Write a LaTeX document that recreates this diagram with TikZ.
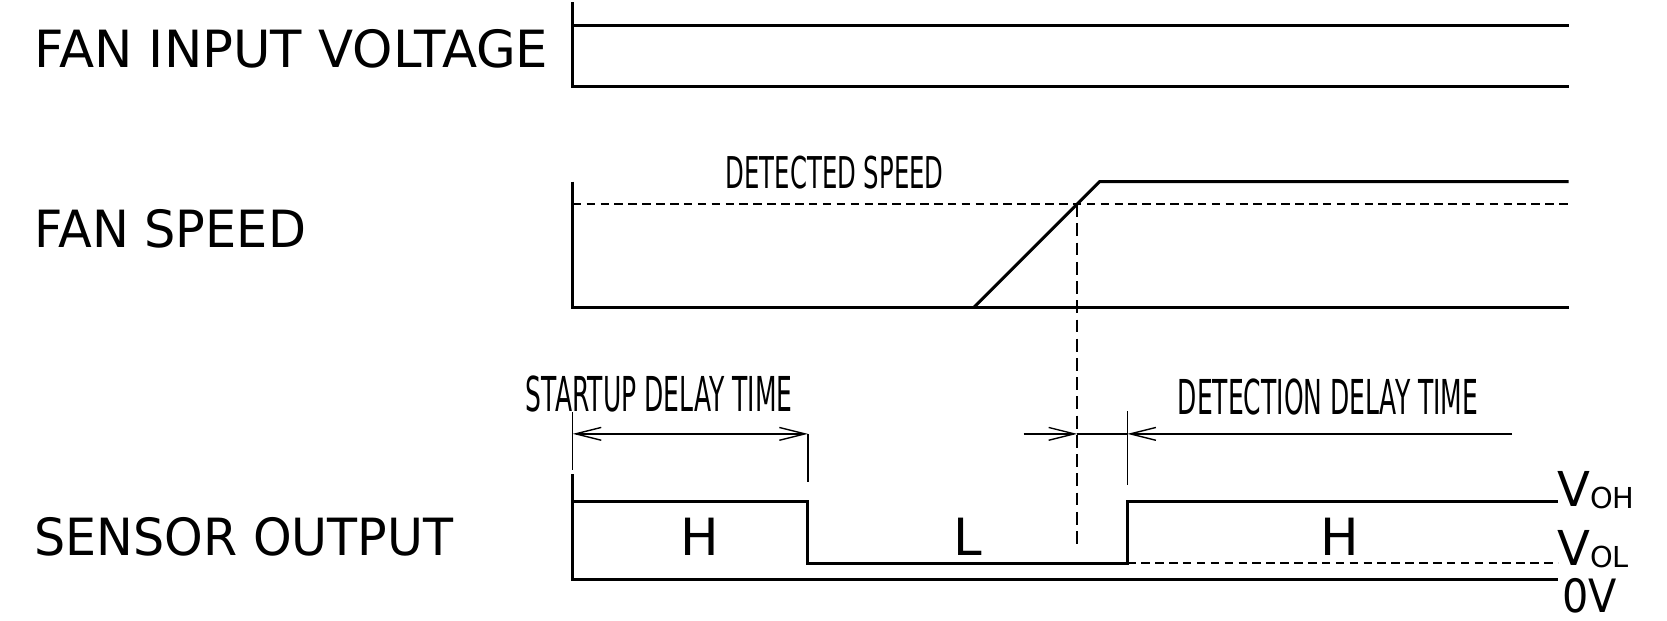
\documentclass[tikz,border=0pt]{standalone}
\usepackage{fontspec}
\setmainfont{DejaVu Sans}
\usepackage{graphicx}
\usetikzlibrary{arrows.meta}
\newcommand\condtxt[2]{\scalebox{#1}[1]{#2}}
\begin{document}
\begin{tikzpicture}[x=1pt,y=-1pt,
  sig/.style={line width=2.7pt},
  dim/.style={line width=1.3pt},
  dashline/.style={line width=1.4pt, dash pattern=on 8pt off 5pt},
  vdash/.style={line width=1.4pt, dash pattern=on 12pt off 6pt},
  barb/.style={line width=1.3pt, -{Straight Barb[length=24pt,width=12pt]}},
  dbarb/.style={line width=1.3pt, {Straight Barb[length=24pt,width=12pt]}-{Straight Barb[length=24pt,width=12pt]}},
  lab/.style={inner sep=0pt, anchor=base west, font=\fontsize{48}{50}\selectfont},
  lvl/.style={inner sep=0pt, anchor=base, font=\fontsize{48}{50}\selectfont},
  cnd/.style={inner sep=0pt, anchor=base west, font=\fontsize{45}{47}\selectfont},
  vl/.style={inner sep=0pt, anchor=base west, font=\fontsize{45}{47}\selectfont}]
\useasboundingbox (0,0) rectangle (1560,581);

% labels
\node[lab] (fiv) at (32,63) {\condtxt{1.0}{FAN INPUT VOLTAGE}};
\node[lab] (fsp) at (32,232) {\condtxt{0.962}{FAN SPEED}};
\node[lab] (sout) at (32,520) {\condtxt{0.958}{SENSOR OUTPUT}};

% fan input voltage
\coordinate (a0) at (536,2);
\coordinate (a1) at (536,81);
\coordinate (a2) at (1468,81);
\coordinate (a3) at (536,24);
\coordinate (a4) at (1468,24);
\draw[sig] (a0) -- (a1) -- (a2);
\draw[sig] (a3) -- (a4);

% fan speed
\coordinate (b0) at (536,170);
\coordinate (b1) at (536,288);
\coordinate (b2) at (1468,288);
\coordinate (r0) at (911,288);
\coordinate (r1) at (1029,170);
\coordinate (b3) at (1468,170);
\coordinate (d0) at (536,191);
\coordinate (d1) at (1468,191);
\coordinate (x0) at (1008,191);
\coordinate (x1) at (1008,510);
\draw[sig] (b0) -- (b1) -- (b2);
\draw[sig] (r0) -- (r1) -- (b3);
\draw[dashline] (d0) -- (d1);
\draw[vdash] (x0) -- (x1);
\node[cnd, font=\fontsize{41}{43}\selectfont] (dsp) at (679,176) {\condtxt{0.556}{DETECTED SPEED}};

% sensor output
\coordinate (s0) at (536,444);
\coordinate (s1) at (536,542);
\coordinate (s2) at (1458,542);
\coordinate (h0) at (536,469);
\coordinate (h1) at (756,469);
\coordinate (h2) at (756,527);
\coordinate (h3) at (1055,527);
\coordinate (h4) at (1055,469);
\coordinate (h5) at (1458,469);
\coordinate (v1) at (1458,527);
\draw[sig] (s0) -- (s1) -- (s2);
\draw[sig] (h0) -- (h1) -- (h2) -- (h3) -- (h4) -- (h5);
\draw[dashline] (h3) -- (v1);

\node[lvl] (lh1) at (655,520) {H};
\node[lvl] (ll) at (906,520) {L};
\node[lvl] (lh2) at (1254,520) {H};

% extension lines
\coordinate (e0) at (536,386);
\coordinate (e1) at (536,440);
\coordinate (e2) at (756,406);
\coordinate (e3) at (756,451);
\coordinate (e4) at (1055,385);
\coordinate (e5) at (1055,454);
\draw[dim] (e0) -- (e1);
\draw[dim] (e2) -- (e3);
\draw[dim] (e4) -- (e5);

% dimension arrows
\coordinate (m0) at (536,406);
\coordinate (m1) at (958,406);
\coordinate (m2) at (1008,406);
\coordinate (m3) at (1055,406);
\coordinate (m4) at (1415,406);
\draw[dbarb] (m0) -- (e2);
\draw[barb] (m1) -- (m2);
\draw[dim] (m2) -- (m3);
\draw[barb] (m4) -- (m3);

\node[cnd] (sdt) at (492,385) {\condtxt{0.52}{STARTUP DELAY TIME}};
\node[cnd] (ddt) at (1102,388) {\condtxt{0.52}{DETECTION DELAY TIME}};

% voltage levels
\node[vl] (voh) at (1457,474) {V\fontsize{27}{28}\selectfont\raisebox{-2pt}{OH}};
\node[vl] (vol) at (1457,529) {V\fontsize{27}{28}\selectfont\raisebox{-2pt}{OL}};
\node[vl, font=\fontsize{43}{45}\selectfont] (zv) at (1462,573) {\condtxt{0.9}{0V}};
\end{tikzpicture}
\end{document}
